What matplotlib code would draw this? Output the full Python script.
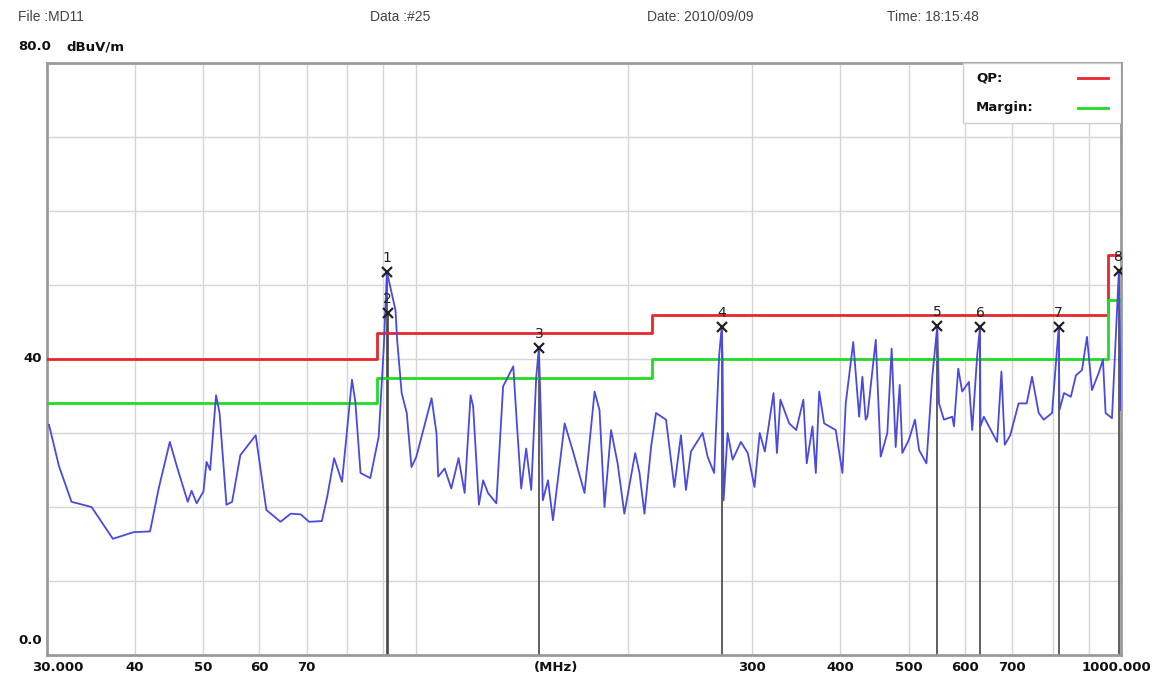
import matplotlib
matplotlib.use('Agg')
from matplotlib import pyplot as plt
from matplotlib.patches import Rectangle
import numpy as np

plt.rcParams['font.family'] = ['Liberation Sans', 'DejaVu Sans']

# measured trace (MHz, dBuV/m)
freq = [30.2, 31.2, 32.5, 34.7, 37.2, 39.8, 42.0, 43.2, 44.8, 46.0, 47.5, 48.1, 48.9, 50.0, 50.5,
        51.1, 52.1, 52.7, 53.9, 54.9, 56.4, 59.3, 61.4, 64.3, 66.5, 68.7, 70.6, 73.6, 74.9, 76.6,
        78.6, 81.2, 82.1, 83.5, 86.2, 88.6, 90.1, 91.0, 93.6, 94.1, 95.5, 97.1, 98.6, 100.2, 105.3,
        107.0, 107.6, 109.9, 112.3, 115.0, 117.3, 119.6, 120.6, 122.9, 124.6, 126.6, 130.1, 133.0,
        137.5, 139.0, 141.1, 143.4, 145.8, 148.2, 149.5, 150.6, 151.4, 154.0, 156.5, 162.6, 167.1,
        173.5, 179.3, 182.2, 185.2, 189.2, 193.3, 197.6, 204.7, 207.6, 211.0, 215.6, 219.1, 226.4,
        232.6, 237.7, 241.6, 245.6, 255.1, 259.3, 264.9, 269.3, 271.5, 272.3, 273.2, 276.8, 281.4,
        289.1, 295.6, 302.2, 307.4, 312.6, 321.6, 325.2, 328.9, 338.5, 346.3, 354.5, 358.4, 365.2,
        369.2, 373.3, 379.4, 394.0, 402.7, 407.1, 417.2, 425.3, 429.8, 434.5, 436.9, 449.0, 456.3,
        466.3, 472.9, 479.2, 485.5, 489.7, 500.4, 510.4, 517.2, 529.8, 540.0, 549.0, 552.0, 560.9,
        576.4, 579.6, 587.8, 595.4, 608.6, 615.2, 625.3, 631.0, 632.1, 639.0, 667.3, 676.8, 684.2,
        696.6, 715.8, 735.1, 748.0, 764.4, 777.1, 798.4, 816.0, 818.0, 830.3, 849.0, 863.2, 880.4,
        894.9, 909.6, 929.6, 942.8, 950.9, 971.0, 988.0, 993.0, 1000.0]
level = [31.1, 25.5, 20.7, 20.0, 15.7, 16.6, 16.7, 22.5, 28.8, 25.0, 20.7, 22.2, 20.5, 22.1, 26.1,
         25.0, 35.1, 32.7, 20.3, 20.7, 27.0, 29.7, 19.6, 18.0, 19.1, 19.0, 18.0, 18.1, 21.4, 26.6,
         23.4, 37.2, 34.2, 24.6, 23.9, 29.5, 41.7, 51.8, 46.6, 42.6, 35.4, 32.7, 25.4, 26.8, 34.7,
         30.0, 24.1, 25.2, 22.5, 26.6, 21.9, 35.1, 33.6, 20.3, 23.6, 21.9, 20.5, 36.3,
         39.0, 31.8, 22.5, 27.9, 22.3, 37.6, 41.5, 30.9, 20.9, 23.6, 18.2, 31.3, 27.5,
         21.9, 35.6, 33.1, 20.0, 30.4, 25.9, 19.1, 27.3, 24.6, 19.1, 28.1, 32.7, 31.8,
         22.7, 29.7, 22.3, 27.5, 30.0, 26.8, 24.6, 40.5, 44.3, 39.9, 20.9, 30.0, 26.4,
         28.8, 27.3, 22.7, 30.0, 27.5, 35.4, 27.3, 34.5, 31.3, 30.4, 34.5, 25.9, 30.9,
         24.6, 35.6, 31.3, 30.4, 24.6, 34.0, 42.3, 32.2, 37.6, 31.8, 32.2, 42.6, 26.8,
         30.0, 41.4, 28.1, 36.5, 27.3, 29.1, 31.8, 27.7, 25.9, 37.6, 44.5, 34.0, 31.8,
         32.2, 30.9, 38.7, 35.6, 36.9, 30.4, 40.5, 44.3, 30.9, 32.2, 28.8, 38.3, 28.4,
         29.7, 34.0, 34.0, 37.6, 32.7, 31.8, 32.7, 44.3, 33.1, 35.4, 34.9, 37.8, 38.5,
         43.0, 35.8, 38.1, 39.9, 32.7, 32.0, 47.5, 51.9, 33.1]

# QP limit steps (MHz edges, dBuV/m)
limit_edges = [30, 88, 216, 960, 1000]
qp_limit = [40.0, 43.5, 46.0, 54.0]
margin_db = 6.0

# marked peaks
mark_no = ['1', '2', '3', '4', '5', '6', '7', '8']
mark_freq = [91.0, 91.2, 149.5, 271.5, 549.0, 631.0, 816.0, 993.0]
mark_level = [51.8, 46.2, 41.5, 44.3, 44.5, 44.3, 44.3, 51.9]

xtick_vals = [30, 40, 50, 60, 70, 300, 400, 500, 600, 700, 1000]
xtick_labels = ['30.000', '40', '50', '60', '70', '300', '400', '500', '600', '700', '1000.000']
xgrid = [40, 50, 60, 70, 80, 90, 100, 200, 300, 400, 500, 600, 700, 800, 900]

W, H = 1160, 682
fig = plt.figure(figsize=(W / 100, H / 100), dpi=100)
fig.patch.set_facecolor('white')
ax = fig.add_axes([47 / W, 1 - 655 / H, (1121 - 47) / W, (655 - 63) / H])
ax.set_xscale('log')
ax.set_xlim(30, 1000)
ax.set_ylim(0, 80)

for g in xgrid:
    ax.axvline(g, color='#d6d6d6', lw=1, zorder=0)
for g in range(10, 80, 10):
    ax.axhline(g, color='#d6d6d6', lw=1, zorder=0)

for s in ax.spines.values():
    s.set_color('#9a9a9a')
    s.set_linewidth(2)
ax.set_xticks([])
ax.set_yticks([])
ax.minorticks_off()
ax.tick_params(which='both', length=0, labelbottom=False, labelleft=False)

# limit lines
qp_steps = qp_limit + [qp_limit[-1]]
mg_steps = [v - margin_db for v in qp_steps]
ax.step(limit_edges, qp_steps, where='post', color='#e8262c', lw=2, zorder=3)
ax.step(limit_edges, mg_steps, where='post', color='#22dd22', lw=2, zorder=3)

# marker lines
ax.vlines(mark_freq, 0, mark_level, color='#444444', lw=1.2, zorder=2)

# trace
ax.plot(freq, level, color='#4a4ae0', lw=1.3, zorder=4)

# markers
ax.plot(mark_freq, mark_level, 'x', color='#222222', ms=7, mew=1.6, zorder=6)
for n, f, v in zip(mark_no, mark_freq, mark_level):
    ax.annotate(n, xy=(f, v), xytext=(0, 5), textcoords='offset points',
                ha='center', va='bottom', fontsize=10, color='#222222', zorder=6,
                family='DejaVu Sans')

bold = dict(family='DejaVu Sans', fontweight='bold', color='#111111')

# legend box
ax.add_patch(Rectangle((0.853, 0.899), 0.147, 0.101, transform=ax.transAxes,
                       facecolor='white', edgecolor='#cfcfcf', lw=1, zorder=7))
ax.text(0.865, 0.975, 'QP:', transform=ax.transAxes, fontsize=9.5,
        va='center', ha='left', zorder=8, **bold)
ax.text(0.865, 0.924, 'Margin:', transform=ax.transAxes, fontsize=9.5,
        va='center', ha='left', zorder=8, **bold)
ax.plot([0.960, 0.988], [0.975, 0.975], transform=ax.transAxes, color='#e8262c', lw=2, zorder=8)
ax.plot([0.960, 0.988], [0.924, 0.924], transform=ax.transAxes, color='#22dd22', lw=2, zorder=8)

# x tick labels
for f, lab in zip(xtick_vals, xtick_labels):
    dx = 8 if lab == '30.000' else (-3 if lab == '1000.000' else 0)
    ax.annotate(lab, xy=(f, 0), xycoords=('data', 'axes fraction'), xytext=(dx, -4),
                textcoords='offset points', ha='center', va='top', fontsize=9.5, **bold)
ax.annotate('(MHz)', xy=(158, 0), xycoords=('data', 'axes fraction'), xytext=(0, -4),
            textcoords='offset points', ha='center', va='top', fontsize=9.5, **bold)


def px(x, y):
    return x / W, 1 - y / H


hdr = dict(fontsize=10, color='#444444', va='center', ha='left')
fig.text(*px(18, 17), 'File :MD11', **hdr)
fig.text(*px(370, 17), 'Data :#25', **hdr)
fig.text(*px(647, 17), 'Date: 2010/09/09', **hdr)
fig.text(*px(887, 17), 'Time: 18:15:48', **hdr)

lab = dict(fontsize=9.5, va='center', **bold)
fig.text(*px(18, 47), '80.0', ha='left', **lab)
fig.text(*px(66, 47), 'dBuV/m', ha='left', **lab)
fig.text(*px(42, 359), '40', ha='right', **lab)
fig.text(*px(42, 640), '0.0', ha='right', **lab)

fig.savefig('out.png', dpi=100, facecolor='white')
